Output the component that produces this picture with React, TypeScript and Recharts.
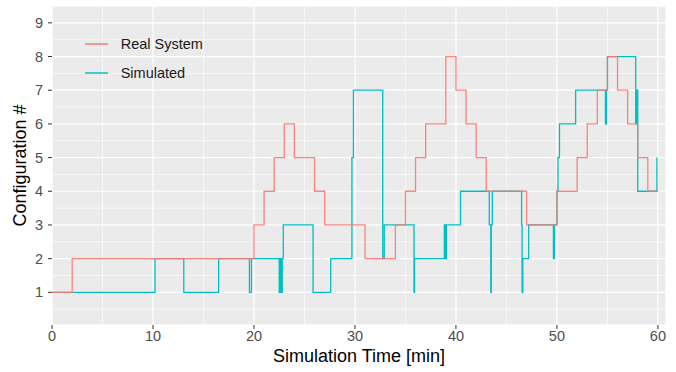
import React from 'react';
import { LineChart, Line, XAxis, YAxis, CartesianGrid, Legend } from 'recharts';

// Real system configuration over time (step after)
const realTimes = [0, 2, 20, 21, 22, 23, 24, 26, 27, 31, 34, 35, 36, 37, 39, 40, 41, 42, 43, 47, 50, 52, 53, 54, 55, 56, 57, 58, 59, 60];
const realValues = [1, 2, 3, 4, 5, 6, 5, 4, 3, 2, 3, 4, 5, 6, 8, 7, 6, 5, 4, 3, 4, 5, 6, 7, 8, 7, 6, 5, 4, 4];

// Simulated configuration over time (step after)
const simTimes = [0, 10.2, 13.05, 16.5, 19.55, 19.75, 22.5, 22.6, 22.7, 22.8, 22.9, 25.85, 27.6, 29.7, 29.85, 32.75, 32.9, 35.85, 35.9, 38.85, 38.95, 39.05, 40.45, 43.3, 43.45, 43.5, 43.6, 46.5, 46.55, 46.62, 47.2, 49.65, 49.75, 50, 50.1, 50.25, 51.85, 54.8, 54.9, 55, 57.8, 57.9, 58, 59.9];
const simValues = [1, 2, 1, 2, 1, 2, 1, 2, 1, 2, 3, 1, 2, 5, 7, 2, 3, 1, 2, 3, 2, 3, 4, 3, 1, 3, 4, 3, 1, 2, 3, 2, 3, 4, 5, 6, 7, 6, 7, 8, 6, 7, 4, 5];

const seriesNames = ['Real System', 'Simulated'];
const seriesColors = ['#F8766D', '#00BFC4'];

const xTicks = [0, 10, 20, 30, 40, 50, 60];
const xMinorTicks = [5, 15, 25, 35, 45, 55];
const yTicks = [1, 2, 3, 4, 5, 6, 7, 8, 9];
const yMinorTicks = [0.5, 1.5, 2.5, 3.5, 4.5, 5.5, 6.5, 7.5, 8.5];
const xDomain: [number, number] = [0, 60.8];
const yDomain: [number, number] = [0.03, 9.5];

const xTitle = 'Simulation Time [min]';
const yTitle = 'Configuration #';

const realData = realTimes.map((t, i) => ({ t, v: realValues[i] }));
const simData = simTimes.map((t, i) => ({ t, v: simValues[i] }));

const FONT = '"Liberation Sans", Arial, Helvetica, sans-serif';

const renderLegend = () => (
  <div style={{ fontFamily: FONT }}>
    {seriesNames.map((name, i) => (
      <div key={name} style={{ display: 'flex', alignItems: 'center', height: 29 }}>
        <svg width={23} height={4} style={{ display: 'block' }}>
          <line x1={0} y1={2} x2={23} y2={2} stroke={seriesColors[i]} strokeWidth={1.5} />
        </svg>
        <span style={{ marginLeft: 12.7, fontSize: 14.5, color: '#1A1A1A', whiteSpace: 'nowrap' }}>{name}</span>
      </div>
    ))}
  </div>
);

export default function App() {
  return (
    <div style={{ position: 'absolute', left: 0, top: 0, width: 676, height: 372, background: '#fff' }}>
      <LineChart width={676} height={372} margin={{ top: 6, right: 10, left: 0, bottom: 0 }}>
        <CartesianGrid xAxisId="minor" yAxisId="minor" stroke="#FFFFFF" strokeWidth={0.6} fill="#EBEBEB" />
        <CartesianGrid stroke="#FFFFFF" strokeWidth={1.2} />
        <XAxis xAxisId="minor" type="number" dataKey="t" domain={xDomain} ticks={xMinorTicks} allowDataOverflow hide />
        <YAxis yAxisId="minor" type="number" domain={yDomain} ticks={yMinorTicks} allowDataOverflow hide />
        <XAxis
          type="number"
          dataKey="t"
          domain={xDomain}
          ticks={xTicks}
          allowDataOverflow
          axisLine={false}
          tickLine={{ stroke: '#333333' }}
          tickSize={4}
          tickMargin={2}
          height={47}
          tick={{ fill: '#4D4D4D', fontSize: 14.5, fontFamily: FONT }}
          label={{
            content: (props: any) => {
              const vb = props.viewBox || {};
              return (
                <text x={vb.x + vb.width / 2} y={vb.y + 37} textAnchor="middle" fontSize={18} fontFamily={FONT} fill="#000">
                  {xTitle}
                </text>
              );
            },
          }}
        />
        <YAxis
          type="number"
          domain={yDomain}
          ticks={yTicks}
          allowDataOverflow
          axisLine={false}
          tickLine={{ stroke: '#333333' }}
          tickSize={4}
          tickMargin={5}
          width={52}
          tick={{ fill: '#4D4D4D', fontSize: 14.5, fontFamily: FONT }}
          label={{
            content: (props: any) => {
              const vb = props.viewBox || {};
              const cx = 26;
              const cy = vb.y + vb.height / 2;
              return (
                <text x={cx} y={cy} transform={`rotate(-90, ${cx}, ${cy})`} textAnchor="middle" fontSize={18} fontFamily={FONT} fill="#000">
                  {yTitle}
                </text>
              );
            },
          }}
        />
        <Legend
          layout="horizontal"
          verticalAlign="middle"
          align="center"
          content={renderLegend}
          wrapperStyle={{ left: 85, top: 29, width: 200, height: 58 }}
        />
        <Line
          data={simData}
          dataKey="v"
          name={seriesNames[1]}
          type="stepAfter"
          stroke={seriesColors[1]}
          strokeWidth={1.3}
          dot={false}
          activeDot={false}
          isAnimationActive={false}
        />
        <Line
          data={realData}
          dataKey="v"
          name={seriesNames[0]}
          type="stepAfter"
          stroke={seriesColors[0]}
          strokeOpacity={0.88}
          strokeWidth={1.3}
          dot={false}
          activeDot={false}
          isAnimationActive={false}
        />
      </LineChart>
    </div>
  );
}
